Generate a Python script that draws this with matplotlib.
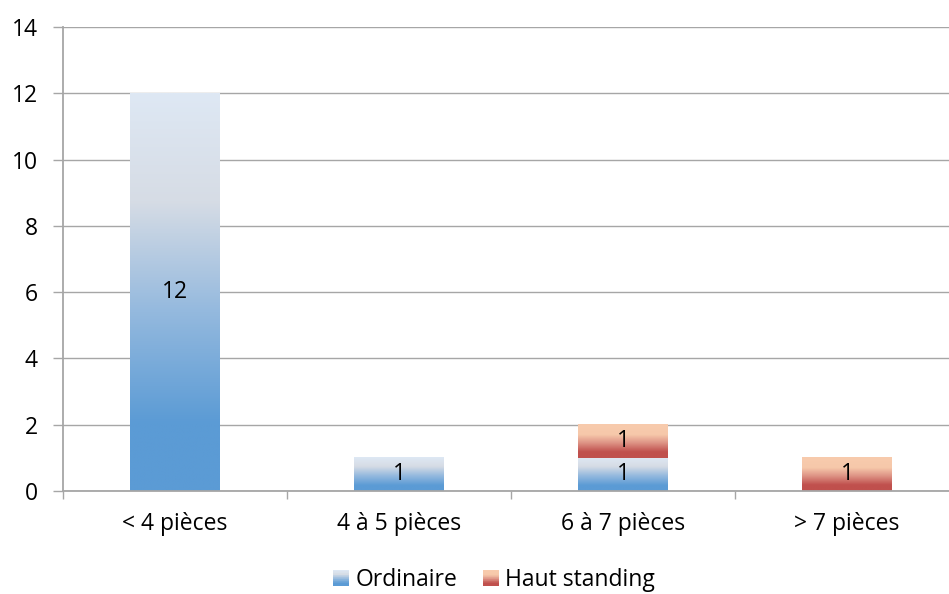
import numpy as np
import matplotlib
matplotlib.use("Agg")
import matplotlib.pyplot as plt
from matplotlib.colors import LinearSegmentedColormap
from matplotlib.legend_handler import HandlerBase
from matplotlib.patches import Rectangle

plt.rcParams['font.family'] = ['Open Sans', 'DejaVu Sans']

categories = ["< 4 pièces", "4 à 5 pièces", "6 à 7 pièces", "> 7 pièces"]
ordinaire = [12, 1, 1, 0]
haut_standing = [0, 0, 1, 1]
series_names = ["Ordinaire", "Haut standing"]
y_ticks = [0, 2, 4, 6, 8, 10, 12, 14]

blue_cmap = LinearSegmentedColormap.from_list(
    "blue_grad",
    [(0.0, "#5B9BD5"), (0.17, "#5B9BD5"), (0.45, "#94B9DE"),
     (0.73, "#D6DCE5"), (1.0, "#DEE8F4")])
red_cmap = LinearSegmentedColormap.from_list(
    "red_grad",
    [(0.0, "#C0504D"), (0.18, "#C0504D"), (0.45, "#DE9486"),
     (0.69, "#F6C8AA"), (1.0, "#F8CBAD")])

grid_col = "#A6A6A6"
FS = 16.5
W, H = 949, 594
fig = plt.figure(figsize=(W / 100, H / 100), dpi=100)
ax = fig.add_axes([63 / W, (H - 491) / H, 896 / W, 464 / H])

x = np.arange(len(categories))
bar_w = 0.40
grad = np.linspace(0, 1, 256).reshape(-1, 1)


def gradient_bars(values, bottoms, cmap):
    bars = ax.bar(x, values, bar_w, bottom=bottoms, color="none",
                  edgecolor="none", zorder=3)
    for rect, v in zip(bars, values):
        if v <= 0:
            continue
        x0, y0 = rect.get_x(), rect.get_y()
        ax.imshow(grad, cmap=cmap, origin="lower", aspect="auto",
                  extent=[x0, x0 + rect.get_width(), y0, y0 + rect.get_height()],
                  zorder=3, interpolation="bilinear")
        ax.text(x0 + rect.get_width() / 2, y0 + rect.get_height() / 2, f"{v}",
                ha="center", va="center", fontsize=FS, color="black", zorder=5)
    return bars


b1 = gradient_bars(ordinaire, [0] * len(x), blue_cmap)
b2 = gradient_bars(haut_standing, ordinaire, red_cmap)

ax.set_xlim(-0.5, len(categories) - 0.5)
ax.set_ylim(0, 14)
ax.set_yticks(y_ticks)
ax.set_yticklabels([str(t) for t in y_ticks], fontsize=FS)
ax.set_xticks(x)
ax.set_xticklabels(categories, fontsize=FS)
ax.tick_params(axis="x", length=0, pad=15)
ax.tick_params(axis="y", length=7.2, width=1, color=grid_col, pad=11)
ax.set_xticks(np.arange(len(categories) + 1) - 0.5, minor=True)
ax.tick_params(axis="x", which="minor", length=6, width=1, color=grid_col)

ax.yaxis.grid(True, color=grid_col, linewidth=1)
ax.set_axisbelow(True)
for s in ["top", "right"]:
    ax.spines[s].set_visible(False)
for s in ["left", "bottom"]:
    ax.spines[s].set_color(grid_col)
    ax.spines[s].set_linewidth(1.3)
    ax.spines[s].set_zorder(4)


class GradientHandler(HandlerBase):
    def __init__(self, cmap):
        super().__init__()
        self.cmap = cmap

    def create_artists(self, legend, orig_handle, xdescent, ydescent,
                       width, height, fontsize, trans):
        n = 24
        side = 16 * 72 / 100
        x0 = width - side
        y0 = -ydescent + (height - side) / 2
        arts = []
        for i in range(n):
            r = Rectangle((x0, y0 + side * i / n), side, side / n + 0.05,
                          facecolor=self.cmap((i + 0.5) / n), edgecolor="none",
                          transform=trans)
            arts.append(r)
        return arts


h1 = Rectangle((0, 0), 1, 1)
h2 = Rectangle((0, 0), 1, 1)
fig.legend([h1, h2], series_names,
           handler_map={h1: GradientHandler(blue_cmap), h2: GradientHandler(red_cmap)},
           loc="center", bbox_to_anchor=(494 / W, (H - 580) / H), ncol=2,
           frameon=False, fontsize=FS, handlelength=0.7, handletextpad=0.28,
           columnspacing=1.1)

fig.savefig("out.png", dpi=100)
